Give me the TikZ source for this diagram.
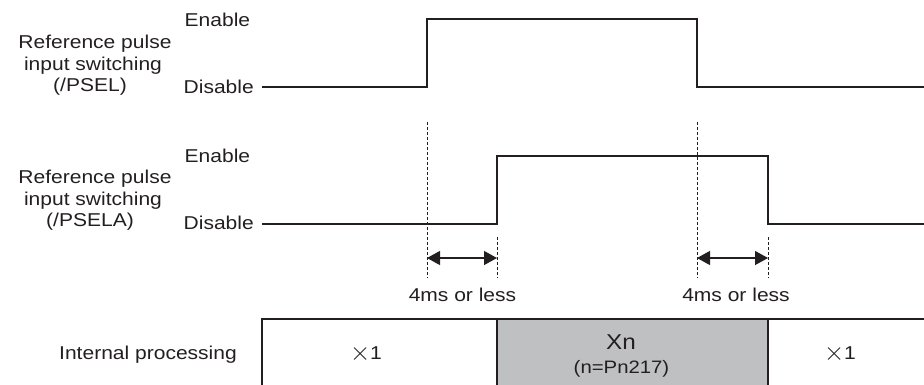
\documentclass[tikz,border=0pt]{standalone}
\usepackage{fontspec}
\setmainfont{Liberation Sans}[FakeStretch=1.13]
\usetikzlibrary{arrows.meta}
\definecolor{ink}{HTML}{231F20}
\definecolor{boxgray}{HTML}{BFC0C2}
\newcommand{\bigtimes}{\raisebox{-1pt}{\scalebox{1.5}{$\times$}}}
\tikzset{
  sig/.style={draw=ink, line width=1.2pt},
  guide/.style={draw=ink, line width=0.9pt, dash pattern=on 3.3pt off 1.7pt},
  dim/.style={draw=ink, line width=1.2pt, {Triangle[length=13pt,width=14pt]}-{Triangle[length=13pt,width=14pt]}},
  lbl/.style={inner sep=0pt, anchor=base, font=\fontsize{18.6}{21.5}\selectfont, text=ink},
  frame/.style={draw=ink, line width=1.2pt}
}
\begin{document}
\begin{tikzpicture}[x=1pt,y=-1pt]
\useasboundingbox (0,0) rectangle (924,384);
% left labels
\node[lbl] (l1a) at (95,48.3) {Reference pulse};
\node[lbl] (l1b) at (93,70) {input switching};
\node[lbl] (l1c) at (90,91) {(/PSEL)};
\node[lbl] (l2a) at (95,183.3) {Reference pulse};
\node[lbl] (l2b) at (93,205) {input switching};
\node[lbl] (l2c) at (90,226.7) {(/PSELA)};
\node[lbl, anchor=base west] (en1) at (184.5,26) {Enable};
\node[lbl, anchor=base west] (dis1) at (183.5,93) {Disable};
\node[lbl, anchor=base west] (en2) at (184.5,162.5) {Enable};
\node[lbl, anchor=base west] (dis2) at (183.5,229.5) {Disable};
% signal 1
\coordinate (s1a) at (262,87);
\coordinate (s1b) at (427,87);
\coordinate (s1c) at (427,19);
\coordinate (s1d) at (697,19);
\coordinate (s1e) at (697,87);
\coordinate (s1f) at (926,87);
\draw[sig] (s1a) -- (s1b) -- (s1c) -- (s1d) -- (s1e) -- (s1f);
% signal 2
\coordinate (s2a) at (262,224);
\coordinate (s2b) at (497,224);
\coordinate (s2c) at (497,156);
\coordinate (s2d) at (768,156);
\coordinate (s2e) at (768,224);
\coordinate (s2f) at (926,224);
\draw[sig] (s2a) -- (s2b) -- (s2c) -- (s2d) -- (s2e) -- (s2f);
% guides
\coordinate (g1t) at (427,122); \coordinate (g1b) at (427,278);
\coordinate (g2t) at (497,237); \coordinate (g2b) at (497,278);
\coordinate (g3t) at (697,122); \coordinate (g3b) at (697,278);
\coordinate (g4t) at (768,237); \coordinate (g4b) at (768,278);
\draw[guide] (g1t) -- (g1b);
\draw[guide] (g2t) -- (g2b);
\draw[guide] (g3t) -- (g3b);
\draw[guide] (g4t) -- (g4b);
% dimension arrows
\coordinate (d1a) at (427,258); \coordinate (d1b) at (497,258);
\coordinate (d2a) at (697,258); \coordinate (d2b) at (768,258);
\draw[dim] (d1a) -- (d1b);
\draw[dim] (d2a) -- (d2b);
\node[lbl] (t1) at (462.5,301.5) {4ms or less};
\node[lbl] (t2) at (736,301.5) {4ms or less};
% internal processing
\fill[boxgray] (497,319) rectangle (768,390);
\draw[frame] (262,390) -- (262,319) -- (926,319);
\draw[frame] (497,319) -- (497,390);
\draw[frame] (768,319) -- (768,390);
\node[lbl, anchor=base east] (ip) at (237,359.5) {Internal processing};
\node[lbl] (x1) at (366,359.5) {\bigtimes1};
\node[lbl, font=\fontsize{21.5}{24}\selectfont] (xn) at (621,349.3) {Xn};
\node[lbl, font=\fontsize{18}{20}\selectfont] (pn) at (621.5,373.3) {(n=Pn217)};
\node[lbl] (x2) at (840,359.5) {\bigtimes1};
\end{tikzpicture}
\end{document}
